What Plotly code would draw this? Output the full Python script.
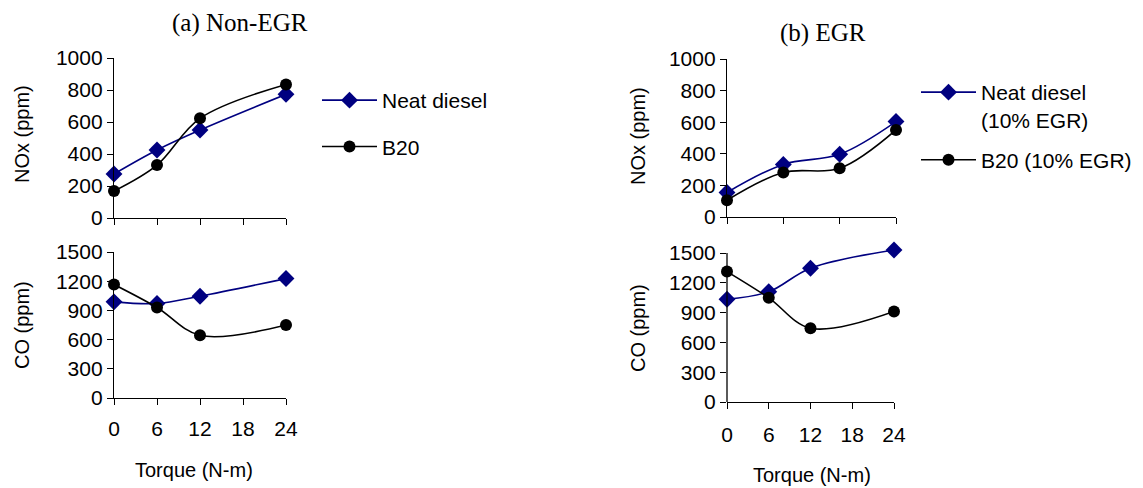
import plotly.graph_objects as go

# ---------------- data ----------------
torque = [0, 6, 12, 24]
torque_cat = ["0", "6", "12", "24"]          # EGR NOx panel uses an evenly spaced category axis
x_ticks = [0, 6, 12, 18, 24]
nox_ticks = [0, 200, 400, 600, 800, 1000]
co_ticks = [0, 300, 600, 900, 1200, 1500]

# (a) Non-EGR
nox_neat = [275, 425, 550, 773]
nox_b20 = [169, 331, 623, 835]
co_neat = [988, 971, 1046, 1227]
co_b20 = [1166, 930, 644, 750]

# (b) EGR
nox_neat_egr = [155, 333, 397, 604]
nox_b20_egr = [106, 282, 308, 551]
co_neat_egr = [1035, 1110, 1347, 1530]
co_b20_egr = [1313, 1049, 743, 912]

names_a = ["Neat diesel", "B20"]
names_b = ["Neat diesel<br>(10% EGR)", "B20 (10% EGR)"]

# ---------------- styling ----------------
W, H = 1143, 488
BLUE = "#000080"
BLACK = "#000000"
SANS = "Liberation Sans"
SERIF = "Liberation Serif"
FS = 21


def fx(x):
    return x / W


def fy(y):
    return 1 - y / H


fig = go.Figure()


def add(x, y, xa, ya, color, symbol, name, legend, show):
    fig.add_trace(go.Scatter(
        x=x, y=y, xaxis=xa, yaxis=ya, mode="lines+markers", name=name,
        line=dict(color=color, width=1.6, shape="spline", smoothing=1.0),
        marker=dict(color=color, symbol=symbol, size=13 if symbol == "diamond" else 12),
        cliponaxis=False, showlegend=show, legend=legend, legendgroup=name + legend,
    ))


add(torque, nox_neat, "x", "y", BLUE, "diamond", names_a[0], "legend", True)
add(torque, nox_b20, "x", "y", BLACK, "circle", names_a[1], "legend", True)
add(torque, co_neat, "x2", "y2", BLUE, "diamond", names_a[0], "legend", False)
add(torque, co_b20, "x2", "y2", BLACK, "circle", names_a[1], "legend", False)
add(torque_cat, nox_neat_egr, "x3", "y3", BLUE, "diamond", names_b[0], "legend2", True)
add(torque_cat, nox_b20_egr, "x3", "y3", BLACK, "circle", names_b[1], "legend2", True)
add(torque, co_neat_egr, "x4", "y4", BLUE, "diamond", names_b[0], "legend2", False)
add(torque, co_b20_egr, "x4", "y4", BLACK, "circle", names_b[1], "legend2", False)

axis_common = dict(showline=True, linecolor="black", linewidth=1.3, ticks="outside",
                   ticklen=6, tickwidth=1.3, tickcolor="black", showgrid=False,
                   zeroline=False, automargin=False,
                   tickfont=dict(family=SANS, size=FS, color="black"))

xa_lin = dict(axis_common, range=[0, 24], tickmode="array", tickvals=x_ticks)

# right CO panel: range a bit above 1500 so the last point's line is not clipped
co_top_b = 1560
co_b_px_top = 402 - (402 - 253) * co_top_b / 1500

fig.update_layout(
    width=W, height=H, margin=dict(l=0, r=0, t=0, b=0, autoexpand=False),
    paper_bgcolor="white", plot_bgcolor="white",
    font=dict(family=SANS, size=FS, color="black"),
    xaxis=dict(xa_lin, domain=[fx(114), fx(286)], anchor="y", showticklabels=False),
    yaxis=dict(axis_common, domain=[fy(218), fy(58)], anchor="x", range=[0, 1000],
               tickmode="array", tickvals=nox_ticks),
    xaxis2=dict(xa_lin, domain=[fx(114), fx(286)], anchor="y2", ticklabelstandoff=6),
    yaxis2=dict(axis_common, domain=[fy(398), fy(252)], anchor="x2", range=[0, 1500],
                tickmode="array", tickvals=co_ticks),
    xaxis3=dict(axis_common, domain=[fx(727), fx(896)], anchor="y3", type="category",
                categoryorder="array", categoryarray=torque_cat, range=[0, 3],
                showticklabels=False),
    yaxis3=dict(axis_common, domain=[fy(217), fy(59)], anchor="x3", range=[0, 1000],
                tickmode="array", tickvals=nox_ticks),
    xaxis4=dict(xa_lin, domain=[fx(727), fx(894)], anchor="y4", ticklabelstandoff=8),
    yaxis4=dict(axis_common, domain=[fy(402), fy(co_b_px_top)], anchor="x4",
                range=[0, co_top_b], tickmode="array", tickvals=co_ticks, showline=False),
    legend=dict(x=fx(317), y=fy(80), xanchor="left", yanchor="top", itemwidth=55,
                font=dict(family=SANS, size=FS), tracegroupgap=16, bgcolor="rgba(0,0,0,0)"),
    legend2=dict(x=fx(916), y=fy(72), xanchor="left", yanchor="top", itemwidth=55,
                 font=dict(family=SANS, size=FS), tracegroupgap=10, valign="top",
                 bgcolor="rgba(0,0,0,0)"),
)

# y axis line of the right CO panel, stopping at the 1500 tick like the other panels
fig.add_shape(type="line", xref="x4 domain", yref="y4", x0=0, x1=0,
              y0=co_ticks[0], y1=co_ticks[-1], line=dict(color="black", width=1.3))

annotations = [
    dict(text="(a) Non-EGR", x=fx(240), y=fy(23), font=dict(family=SERIF, size=25)),
    dict(text="(b) EGR", x=fx(823), y=fy(33), font=dict(family=SERIF, size=25)),
    dict(text="NOx (ppm)", x=fx(22), y=fy(134), textangle=-90, font=dict(size=20)),
    dict(text="CO (ppm)", x=fx(22), y=fy(325), textangle=-90, font=dict(size=20)),
    dict(text="NOx (ppm)", x=fx(638), y=fy(136), textangle=-90, font=dict(size=20)),
    dict(text="CO (ppm)", x=fx(638), y=fy(328), textangle=-90, font=dict(size=20)),
    dict(text="Torque (N-m)", x=fx(194), y=fy(470), font=dict(size=20)),
    dict(text="Torque (N-m)", x=fx(812), y=fy(475), font=dict(size=20)),
]
for a in annotations:
    a.setdefault("font", dict(size=FS))
    a["font"].setdefault("family", SANS)
    a["font"].setdefault("size", FS)
    a["font"]["color"] = "black"
    fig.add_annotation(xref="paper", yref="paper", showarrow=False,
                       xanchor="center", yanchor="middle", **a)

fig.write_html("out.html",
               config={"displayModeBar": False},
               post_script="document.body.style.margin='0';"
                           "document.body.style.overflow='hidden';")
